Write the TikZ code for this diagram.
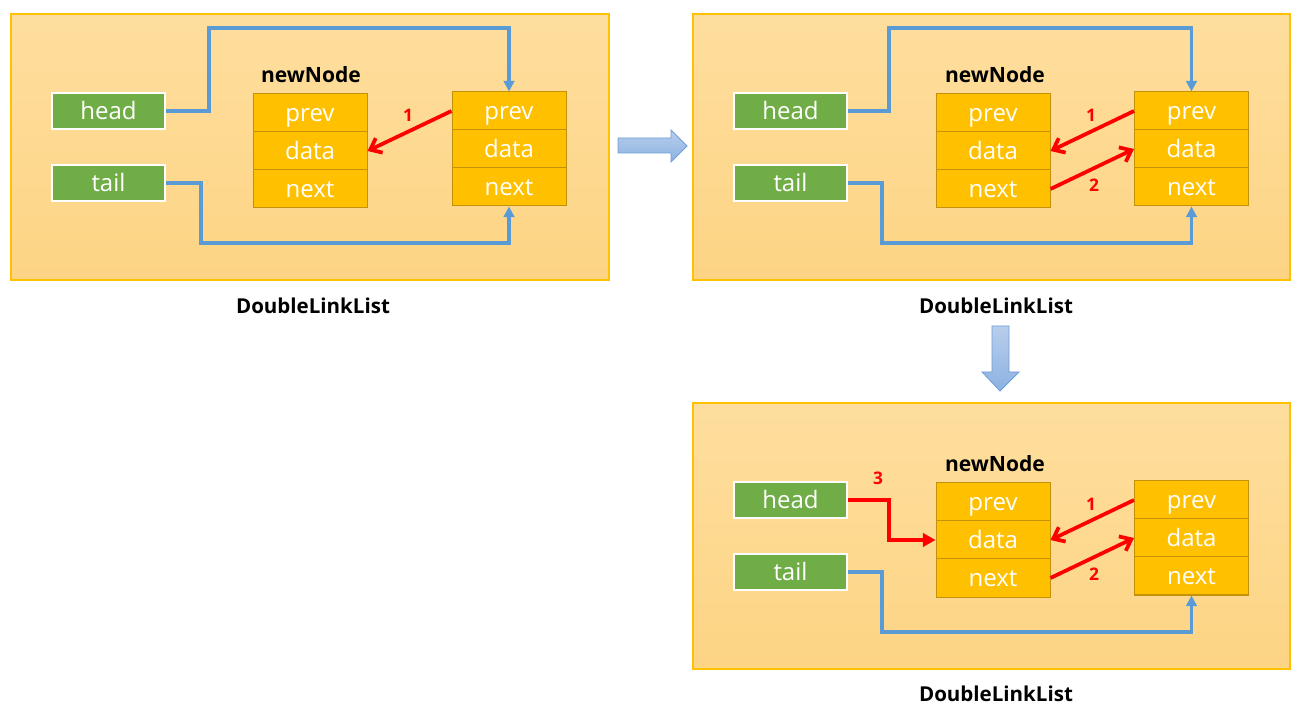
\documentclass[tikz,border=0pt]{standalone}
\usepackage{fontspec}
\setmainfont{Open Sans}
\usetikzlibrary{arrows.meta}
\definecolor{panT}{RGB}{254,222,158}
\definecolor{panB}{RGB}{253,212,132}
\definecolor{panEdge}{RGB}{255,192,0}
\definecolor{fieldFill}{RGB}{255,192,0}
\definecolor{fieldEdge}{RGB}{196,145,10}
\definecolor{greenFill}{RGB}{112,173,71}
\definecolor{blueLine}{RGB}{91,155,213}
\definecolor{bigArrT}{RGB}{184,206,236}
\definecolor{bigArrB}{RGB}{140,178,226}
\definecolor{bigArrEdge}{RGB}{110,158,214}
\tikzset{
  panel/.style={top color=panT,bottom color=panB,draw=panEdge,line width=0.8pt},
  field/.style={rectangle,fill=fieldFill,draw=fieldEdge,line width=0.75pt,minimum width=85.5pt,minimum height=28.5pt,inner sep=0pt,text height=13pt,text depth=0pt,text=white,font=\fontsize{18}{20}\selectfont},
  ptr/.style={rectangle,fill=greenFill,draw=white,line width=1.6pt,minimum width=84.75pt,minimum height=27pt,inner sep=0pt,text height=13pt,text depth=0pt,text=white,font=\fontsize{18}{20}\selectfont},
  title/.style={font=\bfseries\fontsize{15.8}{18}\selectfont,text=black},
  caption/.style={font=\bfseries\fontsize{15.4}{18}\selectfont,text=black},
  num/.style={font=\bfseries\fontsize{13}{15}\selectfont,text=red},
  blueline/.style={draw=blueLine,line width=2.4pt,-{Triangle[length=8pt,width=8pt]}},
  redline/.style={draw=red,line width=2.8pt,-{Straight Barb[length=7.5pt,width=12pt,line width=2.8pt]}},
  redline3/.style={draw=red,line width=2.8pt,-{Triangle[length=9.5pt,width=10pt]}},
  bigarrow/.style={top color=bigArrT,bottom color=bigArrB,draw=bigArrEdge,line width=0.6pt}
}
\begin{document}
\begin{tikzpicture}[x=0.75pt,y=-0.75pt]
\useasboundingbox (0,0) rectangle (1304,716);
\fill[white] (0,0) rectangle (1304,716);

% ===== Panel 1 =====
\shade[panel] (11,14) rectangle (609,280);
\node[ptr] (p1head) at (108.5,111) {head};
\node[ptr] (p1tail) at (108.5,183) {tail};
\node[title] (p1title) at (311,75) {newNode};
\node[field] (p1np) at (310,113) {prev};
\node[field] (p1nd) at (310,151) {data};
\node[field] (p1nn) at (310,189) {next};
\node[field] (p1rp) at (509,111) {prev};
\node[field] (p1rd) at (509,149) {data};
\node[field] (p1rn) at (509,187) {next};
\draw[blueline] (p1head.east) -- (209,111) -- (209,28) -| (p1rp.north);
\draw[blueline] (p1tail.east) -- (201,183) -- (201,243) -| (p1rn.south);
\draw[redline] (p1rp.west) -- (p1nd.east);
\node[num] (p1n1) at (408,115) {1};
\node[caption] (p1cap) at (313,306) {DoubleLinkList};

% ===== Panel 2 =====
\shade[panel] (693,14) rectangle (1290,280);
\node[ptr] (p2head) at (790.5,111) {head};
\node[ptr] (p2tail) at (790.5,183) {tail};
\node[title] (p2title) at (995,75) {newNode};
\node[field] (p2np) at (993,113) {prev};
\node[field] (p2nd) at (993,151) {data};
\node[field] (p2nn) at (993,189) {next};
\node[field] (p2rp) at (1191.5,111) {prev};
\node[field] (p2rd) at (1191.5,149) {data};
\node[field] (p2rn) at (1191.5,187) {next};
\draw[blueline] (p2head.east) -- (889,111) -- (889,28) -| (p2rp.north);
\draw[blueline] (p2tail.east) -- (882,183) -- (882,243) -| (p2rn.south);
\draw[redline] (p2rp.west) -- (p2nd.east);
\draw[redline] (p2nn.east) -- (p2rd.west);
\node[num] (p2n1) at (1091,115) {1};
\node[num] (p2n2) at (1094,185) {2};
\node[caption] (p2cap) at (996,306) {DoubleLinkList};

% ===== Panel 3 =====
\shade[panel] (693,403) rectangle (1290,669);
\node[ptr] (p3head) at (790.5,500) {head};
\node[ptr] (p3tail) at (790.5,572) {tail};
\node[title] (p3title) at (995,464) {newNode};
\node[field] (p3np) at (993,502) {prev};
\node[field] (p3nd) at (993,540) {data};
\node[field] (p3nn) at (993,578) {next};
\node[field] (p3rp) at (1191.5,500) {prev};
\node[field] (p3rd) at (1191.5,538) {data};
\node[field] (p3rn) at (1191.5,576) {next};
\draw[redline3] (p3head.east) -- (889,500) |- (p3nd.west);
\draw[blueline] (p3tail.east) -- (882,572) -- (882,632) -| (p3rn.south);
\draw[redline] (p3rp.west) -- (p3nd.east);
\draw[redline] (p3nn.east) -- (p3rd.west);
\node[num] (p3n1) at (1091,504) {1};
\node[num] (p3n2) at (1094,574) {2};
\node[num] (p3n3) at (878,478) {3};
\node[caption] (p3cap) at (996,694) {DoubleLinkList};

% ===== Big arrows =====
\shade[bigarrow] (618,138) -- (671,138) -- (671,130) -- (687,146) -- (671,162) -- (671,153) -- (618,153) -- cycle;
\shade[bigarrow] (992,326) -- (1009,326) -- (1009,372) -- (1019,372) -- (1000,391) -- (982,372) -- (992,372) -- cycle;
\end{tikzpicture}
\end{document}
